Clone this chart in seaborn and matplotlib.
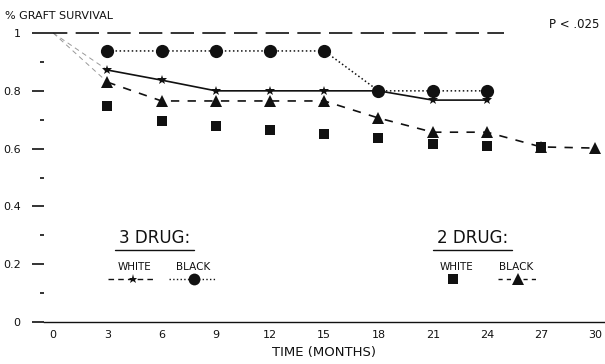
import numpy as np
import pandas as pd
import matplotlib
matplotlib.use('Agg')
import matplotlib.pyplot as plt
import seaborn as sns

# months
months = [3, 6, 9, 12, 15, 18, 21, 24]

# 3 drug therapy
black_3drug = [0.938, 0.938, 0.938, 0.938, 0.938, 0.80, 0.80, 0.80]
white_3drug = [0.872, 0.837, 0.80, 0.80, 0.80, 0.80, 0.768, 0.768]

# 2 drug therapy
white_2drug_months = [3, 6, 9, 12, 15, 18, 21, 24, 27]
white_2drug = [0.747, 0.697, 0.678, 0.664, 0.650, 0.637, 0.616, 0.609, 0.606]
black_2drug_months = [3, 6, 9, 12, 15, 18, 21, 24, 27, 30]
black_2drug = [0.83, 0.765, 0.765, 0.765, 0.765, 0.706, 0.657, 0.657, 0.606, 0.602]

start_month = 0
start_value = 1.0

x_ticks = list(range(0, 31, 3))
y_major = [0, 0.2, 0.4, 0.6, 0.8, 1.0]
y_labels = ['0', '0.2', '0.4', '0.6', '0.8', '1']

sns.set_style('white')
plt.rcParams['font.family'] = ['DejaVu Sans']

fig = plt.figure(figsize=(6.05, 3.64), dpi=100)
ax = fig.add_axes([0.073, 0.115, 0.926, 0.834])

ink = '#111111'

# black, 3 drug: dotted with circles
sns.lineplot(x=months, y=black_3drug, ax=ax, color=ink, linestyle=':', lw=1.1,
             marker='o', markersize=9.5, markeredgewidth=0)

# white, 3 drug: solid with small stars, faint dashed start from 100%
ax.plot([start_month, months[0]], [start_value, white_3drug[0]], color='#999999', ls=(0, (5, 4)), lw=0.7)
sns.lineplot(x=months, y=white_3drug, ax=ax, color=ink, linestyle='-', lw=1.2,
             marker='*', markersize=7.5, markeredgewidth=0)

# black, 2 drug: dashed with triangles
ax.plot([start_month, black_2drug_months[0]], [start_value, black_2drug[0]], color='#999999', ls=(0, (5, 4)), lw=0.7)
sns.lineplot(x=black_2drug_months, y=black_2drug, ax=ax, color=ink, linestyle=(0, (5, 5)), lw=1.2,
             marker='^', markersize=9, markeredgewidth=0)

# white, 2 drug: squares only
sns.scatterplot(x=white_2drug_months, y=white_2drug, ax=ax, color=ink, marker='s', s=55,
                linewidth=0, zorder=5)

# top reference line at 100 %
ax.axhline(1.0, xmin=0.0, xmax=0.82, color=ink, ls=(0, (14, 5)), lw=1.2)

ax.set_xlim(-0.5, 30.5)
ax.set_ylim(0, 1.05)
ax.set_xticks(x_ticks)
ax.set_xticklabels([str(t) for t in x_ticks], fontsize=8)
ax.set_yticks(y_major)
ax.set_yticklabels(y_labels, fontsize=8)
ax.set_yticks(np.arange(0.1, 1.0, 0.2), minor=True)
ax.tick_params(axis='x', direction='in', length=4, width=0.8, pad=6, colors=ink)
ax.tick_params(axis='y', which='major', direction='out', length=9, width=1.2, pad=8, colors=ink, left=True)
ax.tick_params(axis='y', which='minor', direction='out', length=3, width=1.2, left=True, colors=ink)

for side in ['left', 'right', 'top']:
    ax.spines[side].set_visible(False)
ax.spines['bottom'].set_color(ink)
ax.spines['bottom'].set_linewidth(1.0)

ax.set_xlabel('TIME (MONTHS)', fontsize=9.5, labelpad=4, color=ink)
ax.set_ylabel('')
fig.text(0.008, 0.955, '% GRAFT SURVIVAL', fontsize=8, color=ink, ha='left', va='center')
fig.text(0.99, 0.934, 'P < .025', fontsize=8.5, color=ink, ha='right', va='center')

# in-plot key
ax.text(5.6, 0.29, '3 DRUG:', fontsize=12, ha='center', va='center', color=ink)
ax.plot([3.4, 7.8], [0.25, 0.25], color=ink, lw=1.0)
ax.text(4.5, 0.19, 'WHITE', fontsize=7.5, ha='center', va='center', color=ink)
ax.text(7.75, 0.19, 'BLACK', fontsize=7.5, ha='center', va='center', color=ink)
ax.plot([3.05, 4.4, 5.55], [0.149, 0.149, 0.149], color=ink, lw=1.0, ls=(0, (4, 3)),
        marker='*', markersize=6.5, markevery=[1], markeredgewidth=0)
ax.plot([6.4, 7.8, 8.95], [0.149, 0.149, 0.149], color=ink, lw=1.0, ls=':',
        marker='o', markersize=8.5, markevery=[1], markeredgewidth=0)

ax.text(23.2, 0.29, '2 DRUG:', fontsize=12, ha='center', va='center', color=ink)
ax.plot([21.0, 25.4], [0.25, 0.25], color=ink, lw=1.0)
ax.text(22.3, 0.19, 'WHITE', fontsize=7.5, ha='center', va='center', color=ink)
ax.text(25.6, 0.19, 'BLACK', fontsize=7.5, ha='center', va='center', color=ink)
ax.plot([22.1], [0.149], color=ink, marker='s', markersize=7, markeredgewidth=0, ls='none')
ax.plot([24.6, 25.7, 26.85], [0.149, 0.149, 0.149], color=ink, lw=1.0, ls=(0, (3, 3)),
        marker='^', markersize=8.5, markevery=[1], markeredgewidth=0)

fig.savefig('out.png', dpi=100)
